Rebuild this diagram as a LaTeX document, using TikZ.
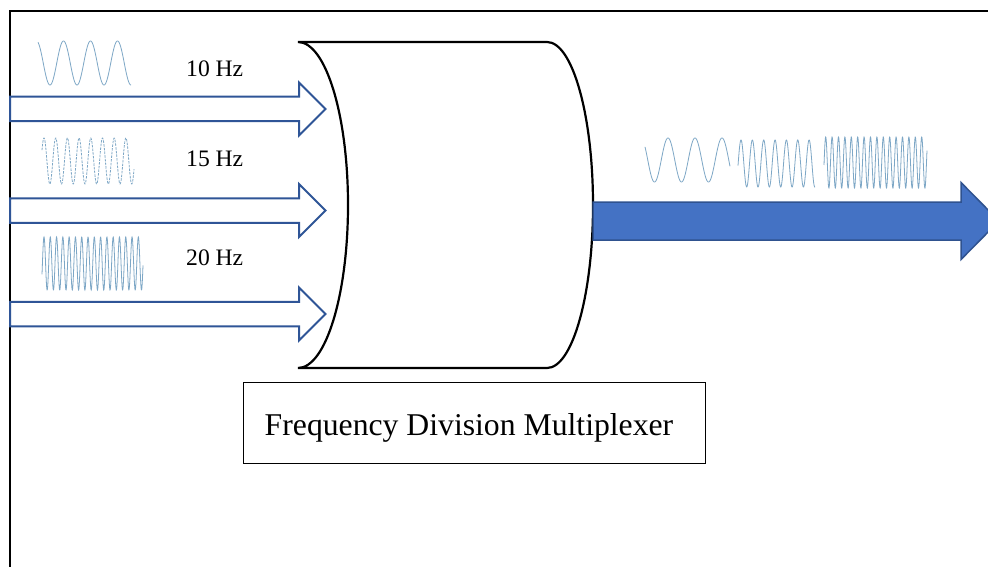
\documentclass[tikz,border=0pt]{standalone}
\usepackage{fontspec}
\setmainfont{Liberation Serif}
\definecolor{inblue}{HTML}{2F5597}
\definecolor{outfill}{HTML}{4472C4}
\definecolor{outedge}{HTML}{2F528F}
\definecolor{wavecol}{HTML}{7DA7C6}
\tikzset{
  frameline/.style={line width=2pt, black},
  inarrowline/.style={draw=inblue, line width=2pt, fill=white, line join=miter},
  outarrowline/.style={draw=outedge, line width=1.5pt, fill=outfill, line join=miter},
  drum/.style={draw=black, line width=2.2pt, fill=white},
  wave/.style={draw=wavecol, line width=0.8pt},
  smalltext/.style={font=\fontsize{23.6}{28}\selectfont, anchor=base west, inner sep=0pt},
  bigtext/.style={font=\fontsize{31.7}{36}\selectfont, anchor=base, inner sep=0pt},
  labelbox/.style={draw=black, line width=1pt, minimum width=462pt, minimum height=81pt, inner sep=0pt},
  inarrow/.pic={
    \path[inarrowline] (0,-12.25) -- (289,-12.25) -- (289,-26.5) -- (315.5,0)
      -- (289,26.5) -- (289,12.25) -- (0,12.25) -- cycle;
  }
}
\begin{document}
\begin{tikzpicture}[x=1pt, y=-1pt]
  \clip (0,0) rectangle (988,567);
  \fill[white] (0,0) rectangle (988,567);

  % open frame along the top and left
  \draw[frameline] (10,580) -- (10,11) -- (1000,11);

  % three input channels
  \pic at (10,109) {inarrow};
  \pic at (10,210.5) {inarrow};
  \pic at (10,314) {inarrow};

  % multiplexer drum
  \path[drum] (298,42) -- (547,42)
    arc[start angle=-90, end angle=90, x radius=46, y radius=163]
    -- (298,368)
    arc[start angle=90, end angle=-90, x radius=50, y radius=163] -- cycle;
  \coordinate (muxout) at (593,221);

  % combined output
  \path[outarrowline] (muxout) ++(0,-19) -- (961,202) -- (961,182.5) -- (999,221)
    -- (961,259.5) -- (961,240) -- (593,240) -- cycle;

  % input signals
  \draw[wave] plot[domain=38:131, samples=200] (\x, {63 - 22*cos((\x-36.5)/27*360)});
  \draw[wave, dash pattern=on 2.5pt off 1.2pt] plot[domain=42:134, samples=300] (\x, {161 - 23*cos((\x-44)/11.7*360)});
  \draw[wave] plot[domain=42:143, samples=500] (\x, {263.5 - 26.5*cos((\x-44)/6.29*360)});

  % multiplexed signal
  \draw[wave] plot[domain=645:730, samples=200] (\x, {160 - 22*cos((\x-668)/27*360)});
  \draw[wave] plot[domain=738:815, samples=300] (\x, {163.5 - 23.5*cos((\x-741)/11.35*360)});
  \draw[wave] plot[domain=824:927, samples=500] (\x, {162.5 - 25.5*cos((\x-825.7)/6.4*360)});

  % channel labels
  \node[smalltext] (f10) at (186,77) {10 Hz};
  \node[smalltext] (f15) at (186,167) {15 Hz};
  \node[smalltext] (f20) at (186,265) {20 Hz};

  % caption box
  \node[labelbox] (fdmbox) at (474,422.5) {};
  \node[bigtext] (fdmtext) at (469,435) {Frequency Division Multiplexer};
\end{tikzpicture}
\end{document}
